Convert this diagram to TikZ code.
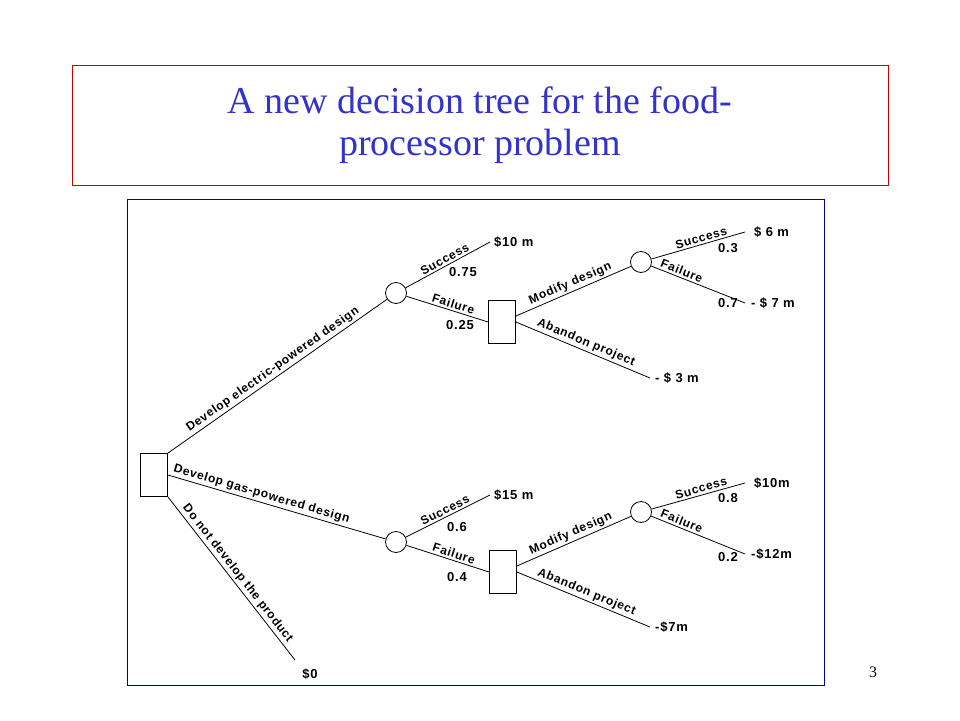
\documentclass[tikz,border=0pt]{standalone}
\usepackage{fontspec}
\setmainfont{Liberation Serif}
\newfontfamily\treefont[LetterSpace=6]{Liberation Sans}
\usetikzlibrary{positioning}
\definecolor{titleblue}{RGB}{51,51,204}
\begin{document}
\begin{tikzpicture}[x=1pt,y=-1pt,>=stealth,
  decision/.style={draw,thick,rectangle,minimum width=27pt,minimum height=43pt,inner sep=0pt},
  chance/.style={draw,thick,circle,minimum size=21pt,inner sep=0pt},
  branch/.style={thick},
  lbl/.style={font=\treefont\bfseries\fontsize{12}{13}\selectfont,sloped,above,inner sep=2pt},
  val/.style={font=\treefont\bfseries\fontsize{13}{14}\selectfont,inner sep=1pt}]
  \useasboundingbox (0,0) rectangle (960,720);
  % title
  \draw[red!80!black] (72,65) rectangle (888,185);
  \node[text=titleblue,font=\fontsize{38}{42}\selectfont,align=center] (title) at (480,125)
    {A new decision tree for the food-\\processor problem};
  \draw[blue!60!black] (127,199) rectangle (824,685);
  \node[font=\fontsize{16}{18}\selectfont] (page) at (873,672) {3};
  % nodes
  \node[decision] (root) at (154,475) {};
  \node[chance] (c1) at (396,293) {};
  \node[decision] (d1) at (502,322) {};
  \node[chance] (c2) at (641,262) {};
  \node[chance] (c3) at (396,542) {};
  \node[decision] (d2) at (503,572) {};
  \node[chance] (c4) at (641,512) {};
  \coordinate (e1) at (490,242);
  \coordinate (e2) at (745,232);
  \coordinate (e3) at (745,303);
  \coordinate (e4) at (650,378);
  \coordinate (e5) at (490,495);
  \coordinate (e6) at (745,483);
  \coordinate (e7) at (745,554);
  \coordinate (e8) at (650,627);
  \coordinate (e9) at (295,660);
  % electric
  \draw[branch] (root.north east) -- node[lbl,pos=0.5] {Develop electric-powered design} (c1);
  \draw[branch] (c1) -- node[lbl,pos=0.5] {Success} (e1);
  \draw[branch] (c1) -- node[lbl,pos=0.55] {Failure} (d1.west);
  \draw[branch] (d1) -- node[lbl,pos=0.5] {Modify design} (c2);
  \draw[branch] (d1.east) -- node[lbl,pos=0.5] {Abandon project} (e4);
  \draw[branch] (c2) -- node[lbl,pos=0.55] {Success} (e2);
  \draw[branch] (c2) -- node[lbl,pos=0.3] {Failure} (e3);
  % gas
  \draw[branch] (root.east) -- node[lbl,pos=0.42] {Develop gas-powered design} (c3);
  \draw[branch] (c3) -- node[lbl,pos=0.5] {Success} (e5);
  \draw[branch] (c3) -- node[lbl,pos=0.55] {Failure} (d2.west);
  \draw[branch] (d2) -- node[lbl,pos=0.5] {Modify design} (c4);
  \draw[branch] (d2.east) -- node[lbl,pos=0.5] {Abandon project} (e8);
  \draw[branch] (c4) -- node[lbl,pos=0.55] {Success} (e6);
  \draw[branch] (c4) -- node[lbl,pos=0.3] {Failure} (e7);
  % no product
  \draw[branch] (root.south east) -- node[lbl,pos=0.5] {Do not develop the product} (e9);
  % values
  \node[val,right=3pt of e1] (v1) {\$10 m};
  \node[val,right=8pt of e2] (v2) {\$ 6 m};
  \node[val,right=5pt of e3] (v3) {- \$ 7 m};
  \node[val,right=4pt of e4] (v4) {- \$ 3 m};
  \node[val,right=3pt of e5] (v5) {\$15 m};
  \node[val,right=8pt of e6] (v6) {\$10m};
  \node[val,right=5pt of e7] (v7) {-\$12m};
  \node[val,right=4pt of e8] (v8) {-\$7m};
  \node[val] (v9) at (310,674) {\$0};
  % probabilities
  \node[val] (p1) at (463,272) {0.75};
  \node[val] (p2) at (460,325) {0.25};
  \node[val] (p3) at (728,248) {0.3};
  \node[val] (p4) at (728,303) {0.7};
  \node[val] (p5) at (457,527) {0.6};
  \node[val] (p6) at (457,577) {0.4};
  \node[val] (p7) at (728,498) {0.8};
  \node[val] (p8) at (728,557) {0.2};
\end{tikzpicture}
\end{document}
